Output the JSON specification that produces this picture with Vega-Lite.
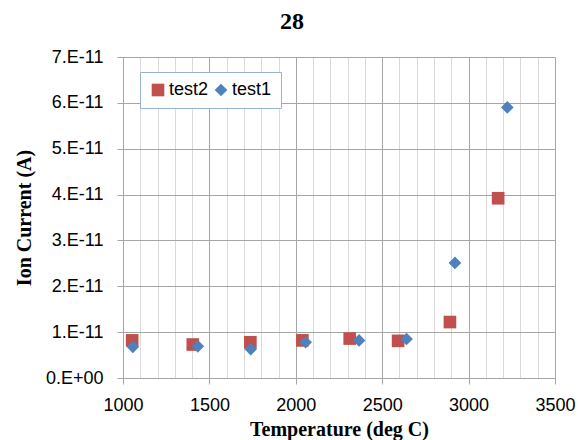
{
  "$schema": "https://vega.github.io/schema/vega-lite/v6.json",
  "width": 432,
  "height": 321,
  "autosize": "none",
  "padding": {"left": 123, "top": 57, "right": 23, "bottom": 62},
  "background": "white",
  "title": {"text": "28", "font": "Liberation Serif", "fontSize": 24, "fontWeight": "bold", "color": "#000", "anchor": "middle", "dx": -47, "offset": 14},
  "config": {
    "view": {"stroke": null},
    "font": "Liberation Serif"
  },
  "data": {"values": [
    {"series": "test2", "temp": 1053, "current": 0.82e-11},
    {"series": "test2", "temp": 1404, "current": 0.73e-11},
    {"series": "test2", "temp": 1737, "current": 0.78e-11},
    {"series": "test2", "temp": 2038, "current": 0.82e-11},
    {"series": "test2", "temp": 2312, "current": 0.86e-11},
    {"series": "test2", "temp": 2592, "current": 0.81e-11},
    {"series": "test2", "temp": 2892, "current": 1.22e-11},
    {"series": "test2", "temp": 3171, "current": 3.92e-11},
    {"series": "test1", "temp": 1057, "current": 0.68e-11},
    {"series": "test1", "temp": 1433, "current": 0.69e-11},
    {"series": "test1", "temp": 1739, "current": 0.63e-11},
    {"series": "test1", "temp": 2057, "current": 0.78e-11},
    {"series": "test1", "temp": 2366, "current": 0.82e-11},
    {"series": "test1", "temp": 2641, "current": 0.85e-11},
    {"series": "test1", "temp": 2921, "current": 2.51e-11},
    {"series": "test1", "temp": 3224, "current": 5.90e-11}
  ]},
  "mark": {"type": "point", "filled": true, "opacity": 1, "size": 160},
  "encoding": {
    "x": {
      "field": "temp", "type": "quantitative",
      "scale": {"domain": [1000, 3500], "nice": false, "zero": false},
      "axis": {
        "title": "Temperature (deg C)",
        "titleFont": "Liberation Serif", "titleFontSize": 20, "titleFontWeight": "bold", "titleColor": "#000",
        "titlePadding": 5,
        "values": [1000,1100,1200,1300,1400,1500,1600,1700,1800,1900,2000,2100,2200,2300,2400,2500,2600,2700,2800,2900,3000,3100,3200,3300,3400,3500],
        "labelExpr": "datum.value % 500 == 0 ? format(datum.value, 'd') : ''",
        "labelFont": "Liberation Sans", "labelFontWeight": "normal",
        "labelFontSize": 18, "labelColor": "#000", "labelPadding": 12,
        "labelFlush": false, "labelOverlap": false,
        "grid": true,
        "gridColor": {"condition": {"test": "datum.value % 500 == 0", "value": "#a6a6a6"}, "value": "#d9d9d9"},
        "gridWidth": 1,
        "tickColor": {"condition": {"test": "datum.value % 500 == 0", "value": "#a6a6a6"}, "value": "transparent"},
        "tickSize": 6,
        "domainColor": "#a6a6a6"
      }
    },
    "y": {
      "field": "current", "type": "quantitative",
      "scale": {"domain": [0, 7e-11], "nice": false},
      "axis": {
        "title": "Ion Current (A)",
        "titleFont": "Liberation Serif", "titleFontSize": 20, "titleFontWeight": "bold", "titleColor": "#000",
        "titlePadding": 11,
        "values": [0, 1e-11, 2e-11, 3e-11, 4e-11, 5e-11, 6e-11, 7e-11],
        "labelExpr": "datum.value == 0 ? '0.E+00' : round(datum.value * 1e11) + '.E-11'",
        "labelFont": "Liberation Sans", "labelFontWeight": "normal",
        "labelFontSize": 18, "labelColor": "#000", "labelPadding": 14,
        "labelFlush": false, "labelOverlap": false,
        "grid": true, "gridColor": "#a6a6a6",
        "tickColor": "#a6a6a6", "tickSize": 6,
        "domainColor": "#a6a6a6"
      }
    },
    "color": {
      "field": "series", "type": "nominal",
      "scale": {"domain": ["test2", "test1"], "range": ["#C0504D", "#4F81BD"]},
      "legend": {
        "title": null, "orient": "none", "legendX": 17, "legendY": 15,
        "direction": "horizontal",
        "labelFont": "Liberation Sans",
        "labelFontSize": 18, "labelColor": "#000",
        "symbolSize": 160, "symbolStrokeWidth": 0,
        "strokeColor": "#95B3D7", "fillColor": "white",
        "padding": 9, "columnPadding": 3, "labelOffset": 2
      }
    },
    "shape": {
      "field": "series", "type": "nominal",
      "scale": {"domain": ["test2", "test1"], "range": ["square", "diamond"]},
      "legend": null
    }
  }
}
